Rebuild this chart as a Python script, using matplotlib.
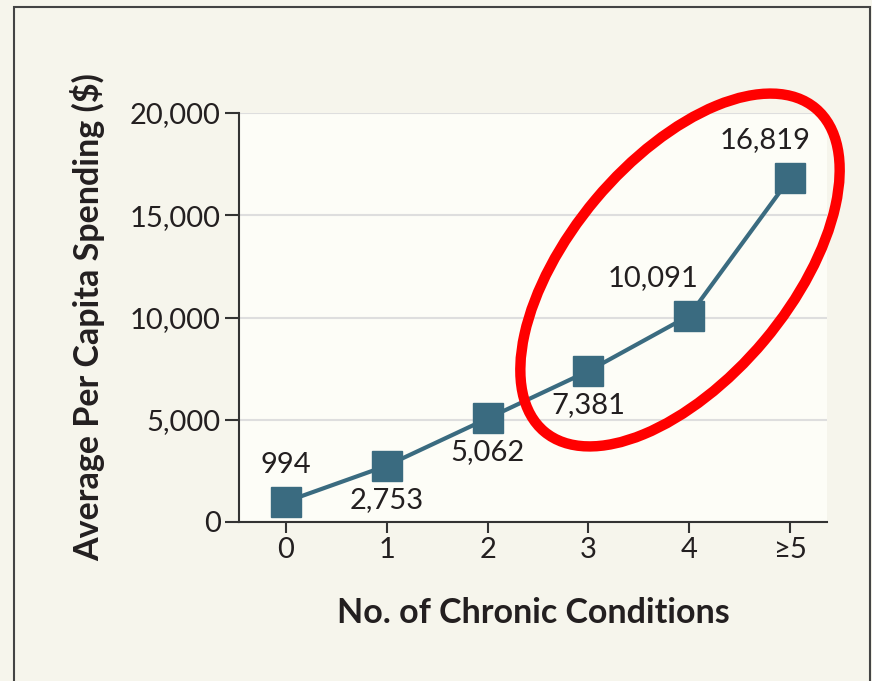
import matplotlib
matplotlib.use("Agg")
import matplotlib.pyplot as plt
from matplotlib.patches import Ellipse, Rectangle
from matplotlib.ticker import FuncFormatter

# Data
conditions = ["0", "1", "2", "3", "4", "\u22655"]
spending = [994, 2753, 5062, 7381, 10091, 16819]
label_side = ["above", "below", "below", "below", "above-left", "above-left"]

y_ticks = [0, 5000, 10000, 15000, 20000]

bg = "#f6f5ec"
face = "#fdfdf7"
teal = "#3a6b80"
ink = "#231f20"

plt.rcParams["font.family"] = ["Lato", "DejaVu Sans"]

fig = plt.figure(figsize=(8.72, 6.81), dpi=100, facecolor=bg)
ax = fig.add_axes([239 / 872, 159 / 681, 588 / 872, 409 / 681])
ax.set_facecolor(face)

x = list(range(len(conditions)))
ax.plot(x, spending, color=teal, lw=3, marker="s", markersize=22,
        markerfacecolor=teal, markeredgecolor=teal, zorder=3, clip_on=False)

# value labels
offsets = {"above": (0, 37), "below": (0, -34), "above-left": (-36, 38)}
for xi, v, side in zip(x, spending, label_side):
    dx, dy = offsets[side]
    if xi == 5:
        dx = -25
    ax.annotate(f"{v:,}", (xi, v), xytext=(dx, dy), textcoords="offset pixels",
                ha="center", va="center", fontsize=21, color=ink)

ax.set_xlim(-0.466, 5.367)
ax.set_ylim(0, 20000)
ax.set_xticks(x)
ax.set_xticklabels(conditions)
ax.set_yticks(y_ticks)
ax.yaxis.set_major_formatter(FuncFormatter(lambda v, p: f"{int(v):,}"))

ax.grid(axis="y", color="#dedede", lw=1.5)
ax.set_axisbelow(True)
for s in ["top", "right"]:
    ax.spines[s].set_visible(False)
for s in ["left", "bottom"]:
    ax.spines[s].set_linewidth(1.5)
    ax.spines[s].set_color("#333333")

ax.tick_params(axis="y", length=10, width=1.5, color="#333333", pad=3,
               labelsize=21, labelcolor=ink)
ax.tick_params(axis="x", length=8, width=1.5, color="#333333", pad=3,
               labelsize=21, labelcolor=ink)

ax.set_xlabel("No. of Chronic Conditions", fontsize=24.5, fontweight="bold",
              color=ink, labelpad=24)
ax.set_ylabel("Average Per Capita Spending ($)", fontsize=24.5, fontweight="bold",
              color=ink, labelpad=18)

# outer frame
fig.patches.append(Rectangle((14 / 872, -0.05), (870 - 14) / 872, (681 - 7) / 681 + 0.05,
                             transform=fig.transFigure, fill=False,
                             edgecolor="#444444", lw=1.5))

# red highlight ellipse
fig.patches.append(Ellipse((6.80, 4.11), 4.22, 2.2, angle=50,
                           transform=fig.dpi_scale_trans, fill=False,
                           edgecolor="#ff0000", lw=7.5, zorder=5))

fig.savefig("out.png", dpi=100, facecolor=bg)
